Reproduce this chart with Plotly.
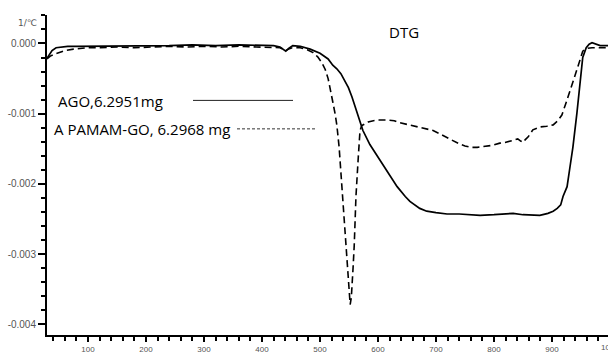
import plotly.graph_objects as go

# ---- data (temperature in degC, DTG in 1/degC) ----
ago_T = [29.3, 33, 38, 45, 52, 65, 80, 100, 130, 160, 200, 240, 280, 320, 360, 400, 420, 431, 437, 441,
         446, 453, 466, 483, 500, 514, 522, 529, 536, 543, 549, 555, 564, 574, 586, 603, 621, 633, 647, 655,
         672, 684, 700, 719, 740, 760, 776, 800, 820, 833, 850, 862, 879, 893, 902, 909, 915, 919, 926, 931,
         936, 943, 948, 953, 959, 964, 969, 976, 983, 990, 997]
ago_v_milli = [-0.21, -0.17, -0.10, -0.06, -0.05, -0.04, -0.04, -0.04, -0.03, -0.03, -0.04, -0.03, -0.02, -0.03,
               -0.02, -0.03, -0.03, -0.05, -0.09, -0.11, -0.07, -0.03, -0.04, -0.08, -0.14, -0.22, -0.31, -0.36,
               -0.43, -0.53, -0.63, -0.76, -0.99, -1.24, -1.44, -1.66, -1.90, -2.04, -2.18, -2.25, -2.35, -2.39,
               -2.41, -2.43, -2.43, -2.44, -2.45, -2.44, -2.43, -2.42, -2.44, -2.44, -2.45, -2.42, -2.39, -2.35,
               -2.30, -2.18, -2.04, -1.76, -1.48, -0.99, -0.57, -0.20, -0.06, -0.01, 0.01, -0.01, -0.03, -0.03,
               -0.03]

pamam_T = [29.3, 35, 43, 52, 60, 75, 86, 100, 121, 150, 180, 210, 240, 270, 300, 330, 360, 390, 420, 431,
           436, 441, 446, 452, 466, 478, 488, 496, 503, 509, 514, 518, 522, 526, 529, 533, 536, 540, 543, 546,
           548, 550, 552, 554, 555, 557, 559, 562, 566, 569, 572, 576, 583, 592, 600, 616, 628, 638, 655, 672,
           684, 695, 707, 716, 729, 740, 750, 760, 771, 785, 798, 810, 819, 833, 841, 846, 850, 854, 859, 867,
           879, 891, 902, 910, 917, 924, 931, 938, 945, 953, 960, 969, 980, 990, 997]
pamam_v_milli = [-0.22, -0.18, -0.15, -0.12, -0.10, -0.08, -0.07, -0.06, -0.06, -0.05, -0.06, -0.05, -0.04, -0.05,
                 -0.04, -0.05, -0.04, -0.05, -0.05, -0.06, -0.08, -0.10, -0.08, -0.06, -0.06, -0.09, -0.13, -0.19,
                 -0.27, -0.37, -0.50, -0.65, -0.83, -1.00, -1.16, -1.48, -1.83, -2.25, -2.67, -3.05, -3.30, -3.52,
                 -3.72, -3.62, -3.51, -3.20, -2.88, -2.18, -1.62, -1.24, -1.17, -1.15, -1.12, -1.10, -1.09, -1.09,
                 -1.10, -1.13, -1.16, -1.20, -1.22, -1.24, -1.29, -1.33, -1.38, -1.43, -1.46, -1.48, -1.48, -1.47,
                 -1.45, -1.42, -1.41, -1.38, -1.36, -1.39, -1.41, -1.37, -1.33, -1.23, -1.19, -1.18, -1.16, -1.10,
                 -1.02, -0.85, -0.69, -0.50, -0.32, -0.11, -0.07, -0.06, -0.06, -0.06, -0.06]

start_marker_T = [25.9]
start_marker_v_milli = [-0.20]

x_tickvals = [100, 200, 300, 400, 500, 600, 700, 800, 900]
x_ticktext = ["100", "200", "300", "400", "500", "600", "700", "800", "900"]
y_tickvals = [0.0, -0.001, -0.002, -0.003, -0.004]
y_ticktext = ["0.000", "-0.001", "-0.002", "-0.003", "-0.004"]

series1_name = "AGO,6.2951mg"
series2_name = "A PAMAM-GO, 6.2968 mg"
title_text = "DTG"
yunit_text = "1/℃"

ago_v = [v / 1000 for v in ago_v_milli]
pamam_v = [v / 1000 for v in pamam_v_milli]
start_v = [v / 1000 for v in start_marker_v_milli]

fig = go.Figure()
fig.add_trace(go.Scatter(x=pamam_T, y=pamam_v, mode="lines",
                         line=dict(color="black", width=1.6, dash="7px,4px"), name=series2_name))
fig.add_trace(go.Scatter(x=ago_T, y=ago_v, mode="lines",
                         line=dict(color="black", width=1.7), name=series1_name))
fig.add_trace(go.Scatter(x=start_marker_T, y=start_v, mode="markers", cliponaxis=False,
                         marker=dict(symbol="square-open", size=7, color="#e03030", line=dict(width=1)),
                         name="start"))

axis_font = dict(family="Liberation Sans, Arial, sans-serif", size=10, color="#555555")

fig.update_xaxes(range=[29.31, 996.55], showgrid=False, zeroline=False,
                 showline=True, linecolor="black", linewidth=2,
                 ticks="outside", ticklen=5, tickwidth=1.5, tickcolor="black",
                 tickmode="array", tickvals=x_tickvals, ticktext=x_ticktext,
                 tickfont=dict(family="Liberation Sans, Arial, sans-serif", size=8, color="#555555"),
                 minor=dict(ticks="outside", ticklen=4, tickwidth=1.5, tickcolor="black",
                            tick0=0, dtick=20, showgrid=False))
fig.update_yaxes(range=[-0.004154, 0.000406], showgrid=False, zeroline=False,
                 showline=True, linecolor="black", linewidth=2,
                 ticks="outside", ticklen=7, tickwidth=1.5, tickcolor="black",
                 tickmode="array", tickvals=y_tickvals, ticktext=y_ticktext,
                 tickfont=axis_font,
                 minor=dict(ticks="outside", ticklen=4, tickwidth=1.5, tickcolor="black",
                            tick0=0, dtick=0.0002, showgrid=False))

text_font = dict(family="Open Sans, sans-serif", size=15, color="black")

def px_x(p):
    return (p - 47) / 561.0

def px_y(p):
    return (341 - p) / 326.0

fig.update_layout(
    width=608, height=354,
    margin=dict(l=47, r=0, t=15, b=13),
    plot_bgcolor="white", paper_bgcolor="white",
    showlegend=False,
    annotations=[
        dict(text=title_text, xref="paper", yref="paper", x=px_x(404), y=px_y(32.5),
             xanchor="center", yanchor="middle", showarrow=False, font=text_font),
        dict(text=series1_name, xref="paper", yref="paper", x=px_x(56), y=px_y(103),
             xanchor="left", yanchor="middle", showarrow=False, font=text_font),
        dict(text=series2_name, xref="paper", yref="paper", x=px_x(52), y=px_y(131),
             xanchor="left", yanchor="middle", showarrow=False, font=text_font),
        dict(text=yunit_text, xref="paper", yref="paper", x=px_x(27), y=px_y(23),
             xanchor="center", yanchor="middle", showarrow=False,
             font=dict(family="DejaVu Sans, Liberation Sans, sans-serif", size=9, color="#555555")),
        dict(text="1000", xref="paper", yref="paper", x=px_x(610), y=px_y(347),
             xanchor="center", yanchor="top", showarrow=False,
             font=dict(family="Liberation Sans, Arial, sans-serif", size=8, color="#555555")),
    ],
    shapes=[
        dict(type="line", xref="paper", yref="paper", x0=px_x(193), x1=px_x(293),
             y0=px_y(102), y1=px_y(102), line=dict(color="#222222", width=1)),
        dict(type="line", xref="paper", yref="paper", x0=px_x(237), x1=px_x(317),
             y0=px_y(131), y1=px_y(131), line=dict(color="#333333", width=1, dash="3px,2px")),
    ],
)

fig.write_html("out.html")
